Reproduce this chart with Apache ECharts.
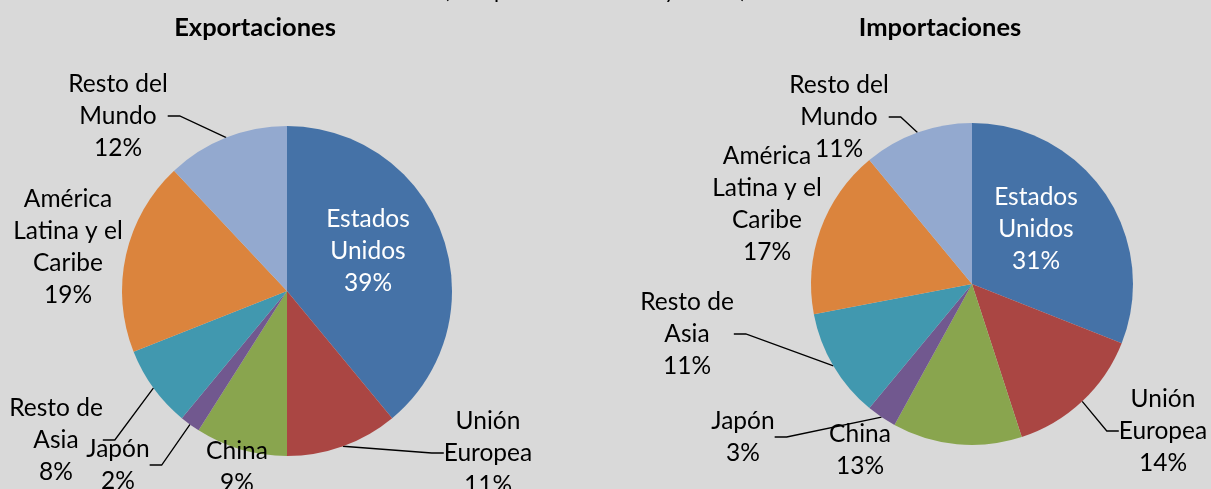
<!DOCTYPE html>
<html>
<head>
<meta charset="utf-8">
<script src="https://cdn.jsdelivr.net/npm/echarts@6/dist/echarts.min.js"></script>
<style>
  html, body { margin: 0; padding: 0; background: #d9d9d9; }
  #chart { width: 1211px; height: 489px; }
</style>
</head>
<body>
<div id="chart"></div>
<script>
const categories = ['Estados\nUnidos', 'Unión\nEuropea', 'China', 'Japón', 'Resto de\nAsia', 'América\nLatina y el\nCaribe', 'Resto del\nMundo']
const exportValues = [39, 11, 9, 2, 8, 19, 12]
const importValues = [31, 14, 13, 3, 11, 17, 11]
const colors = ['#4572a7', '#aa4643', '#89a54e', '#71588f', '#4198af', '#db843d', '#93a9cf']

// label anchors (text block centers), layout only
const exportLabelPos = [[368, 251], [488, 453], [237, 467], [118, 465], [56, 440], [68, 247], [118, 116]]
const importLabelPos = [[1036, 229], [1163, 431], [860, 450], [743, 437], [687, 334], [767, 204], [839, 117]]
const exportNoLine = [0, 2, 5]
const importNoLine = [0, 2, 5]

const FONT = 'Lato'

const buildSeries = (name, values, center, radius, labelPos, noLine) => ({
  name,
  type: 'pie',
  center,
  radius,
  startAngle: 90,
  clockwise: true,
  animation: false,
  itemStyle: {borderWidth: 0},
  label: {
    show: true,
    position: 'outside',
    color: '#000',
    fontFamily: FONT,
    fontSize: 24.5,
    lineHeight: 32,
    align: 'center',
    overflow: 'none',
    formatter: p => p.name + '\n' + p.value + '%',
  },
  labelLine: {
    show: true,
    length: 10,
    length2: 12,
    lineStyle: {color: '#000', width: 1.3},
  },
  labelLayout: p => ({
    x: labelPos[p.dataIndex][0],
    y: labelPos[p.dataIndex][1],
    align: 'center',
    verticalAlign: 'middle',
  }),
  data: values.map((v, i) => ({
    name: categories[i],
    value: v,
    itemStyle: {color: colors[i]},
    label: i === 0 ? {color: '#fff', position: 'inside', overflow: 'none', width: 200} : undefined,
    labelLine: noLine.includes(i) ? {show: false} : undefined,
  })),
})

const chart = echarts.init(document.getElementById('chart'))
chart.setOption({
  backgroundColor: '#d9d9d9',
  title: [
    {
      text: '(Composición del total y socios)',
      left: 590,
      top: -25,
      textAlign: 'center',
      textStyle: {fontFamily: FONT, fontSize: 22, fontWeight: 'normal', color: '#000'},
    },
    {
      text: 'Exportaciones',
      left: 250,
      top: 10,
      textAlign: 'center',
      textStyle: {fontFamily: FONT, fontSize: 25.5, fontWeight: 'bold', color: '#000'},
    },
    {
      text: 'Importaciones',
      left: 935,
      top: 10,
      textAlign: 'center',
      textStyle: {fontFamily: FONT, fontSize: 25.5, fontWeight: 'bold', color: '#000'},
    },
  ],
  series: [
    buildSeries('Exportaciones', exportValues, [287, 291], 165, exportLabelPos, exportNoLine),
    buildSeries('Importaciones', importValues, [972, 284], 161, importLabelPos, importNoLine),
  ],
})
</script>
</body>
</html>
